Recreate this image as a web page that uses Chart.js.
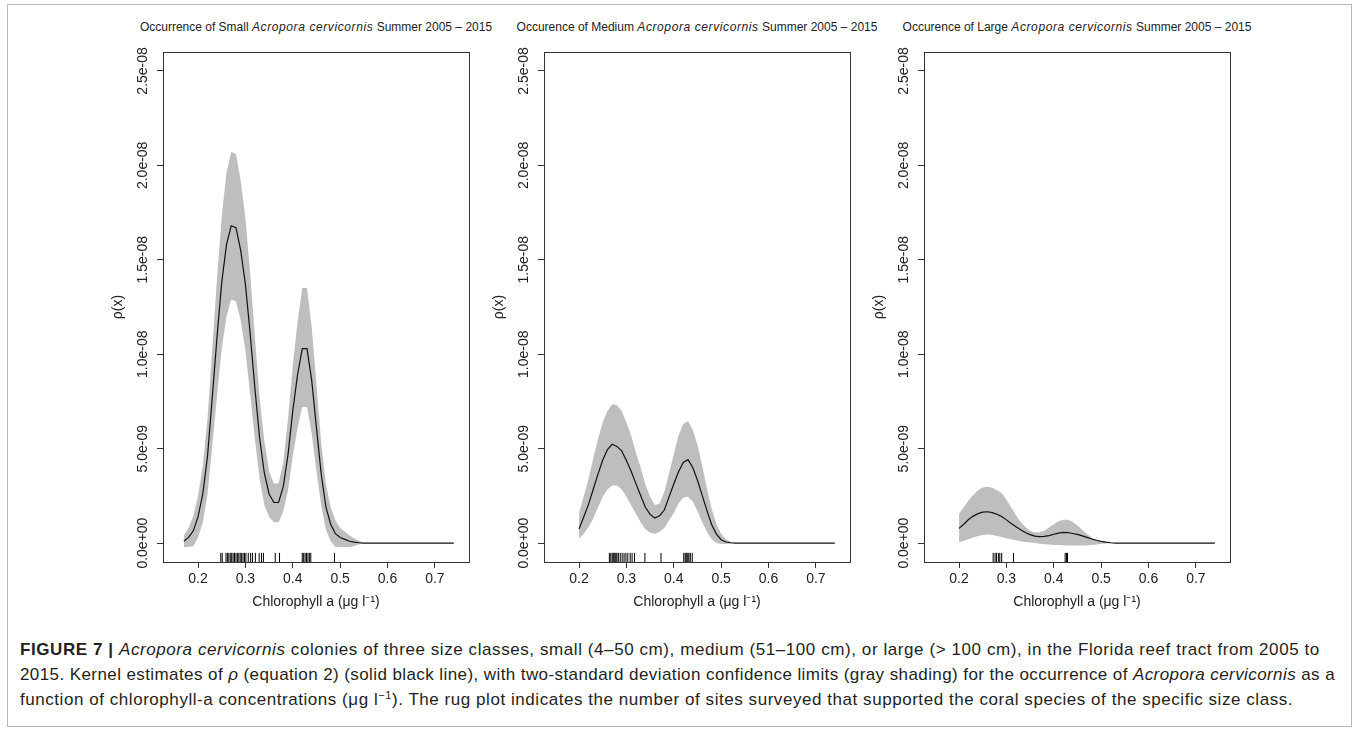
<!DOCTYPE html>
<html>
<head>
<meta charset="utf-8">
<script src="https://cdn.jsdelivr.net/npm/chart.js@4.4.1/dist/chart.umd.min.js"></script>
<style>
  html, body { margin: 0; padding: 0; background: #fff; }
  body { width: 1358px; height: 729px; position: relative; overflow: hidden; font-family: "Liberation Sans", Arial, sans-serif; }
  .frame { position: absolute; left: 7px; top: 4px; width: 1345px; height: 723px; border: 1px solid #b8b8b8; box-sizing: border-box; }
  .panel { position: absolute; top: 0; width: 391px; height: 615px; }
  .ptitle { position: absolute; top: 20px; font-size: 12px; line-height: 14px; color: #222; white-space: nowrap; transform: translateX(-50%); }
  .ptitle i { letter-spacing: 0.6px; }
  .caption { position: absolute; left: 20px; top: 638px; font-size: 17px; line-height: 24.8px; color: #231f20; white-space: nowrap; }
  .caption sup { font-size: 11px; line-height: 0; vertical-align: 6px; }
</style>
</head>
<body>
<div class="frame"></div>

<div class="ptitle" style="left:316px">Occurrence of Small <i>Acropora cervicornis</i> Summer 2005 – 2015</div>
<div class="ptitle" style="left:697px">Occurence of Medium <i>Acropora cervicornis</i> Summer 2005 – 2015</div>
<div class="ptitle" style="left:1077px">Occurence of Large <i>Acropora cervicornis</i> Summer 2005 – 2015</div>

<div class="panel" style="left:88px"><canvas id="small"></canvas></div>
<div class="panel" style="left:469px"><canvas id="medium"></canvas></div>
<div class="panel" style="left:849px"><canvas id="large"></canvas></div>

<div class="caption">
<span style="letter-spacing:0.58px"><b>FIGURE 7 |</b> <i>Acropora cervicornis</i> colonies of three size classes, small (4–50 cm), medium (51–100 cm), or large (&gt; 100 cm), in the Florida reef tract from 2005 to</span><br>
<span style="letter-spacing:0.41px">2015. Kernel estimates of <i>ρ</i> (equation 2) (solid black line), with two-standard deviation confidence limits (gray shading) for the occurrence of <i>Acropora cervicornis</i> as a</span><br>
<span style="letter-spacing:0.55px">function of chlorophyll-a concentrations (μg l<sup>−1</sup>). The rug plot indicates the number of sites surveyed that supported the coral species of the specific size class.</span>
</div>

<script>
// density values are in units of 1e-8
const xTicks = [0.2, 0.3, 0.4, 0.5, 0.6, 0.7];
const xTickLabels = ['0.2', '0.3', '0.4', '0.5', '0.6', '0.7'];
const yTicks = [0, 0.5, 1.0, 1.5, 2.0, 2.5];
const yTickLabels = ['0.0e+00', '5.0e-09', '1.0e-08', '1.5e-08', '2.0e-08', '2.5e-08'];

// small colonies
const xSmall = [0.17,0.18,0.19,0.20,0.21,0.22,0.23,0.24,0.25,0.26,0.27,0.28,0.29,0.30,0.31,0.32,0.33,0.34,0.35,0.36,0.37,0.38,0.39,0.40,0.41,0.42,0.43,0.44,0.45,0.46,0.47,0.48,0.49,0.50,0.51,0.52,0.53,0.54,0.55,0.60,0.65,0.70,0.74];
const rhoSmall = [0.01,0.03,0.065,0.14,0.26,0.46,0.77,1.09,1.38,1.58,1.68,1.67,1.55,1.37,1.11,0.82,0.555,0.37,0.26,0.215,0.215,0.30,0.47,0.70,0.89,1.03,1.03,0.86,0.61,0.365,0.19,0.10,0.05,0.03,0.02,0.01,0.005,0.002,0,0,0,0,0];
const upSmall = [0.04,0.08,0.145,0.25,0.41,0.66,1.03,1.40,1.73,1.96,2.07,2.06,1.92,1.72,1.43,1.09,0.77,0.54,0.38,0.315,0.315,0.43,0.66,0.94,1.17,1.35,1.35,1.14,0.84,0.53,0.31,0.19,0.12,0.08,0.06,0.04,0.025,0.012,0,0,0,0,0];
const loSmall = [-0.02,-0.02,-0.015,0.03,0.11,0.26,0.51,0.78,1.03,1.20,1.29,1.28,1.18,1.02,0.79,0.55,0.34,0.20,0.14,0.11,0.11,0.17,0.28,0.46,0.61,0.72,0.72,0.58,0.38,0.20,0.07,0.01,-0.02,-0.02,-0.02,-0.02,-0.015,-0.008,0,0,0,0,0];
const rugSmall = [0.248,0.251,0.259,0.262,0.265,0.268,0.271,0.274,0.277,0.280,0.283,0.286,0.289,0.292,0.295,0.298,0.301,0.306,0.311,0.315,0.321,0.329,0.334,0.338,0.363,0.372,0.420,0.423,0.426,0.429,0.432,0.435,0.438,0.488];

// medium colonies
const xMedium = [0.20,0.21,0.22,0.23,0.24,0.25,0.26,0.27,0.28,0.29,0.30,0.31,0.32,0.33,0.34,0.35,0.36,0.37,0.38,0.39,0.40,0.41,0.42,0.43,0.44,0.45,0.46,0.47,0.48,0.49,0.50,0.51,0.52,0.53,0.54,0.55,0.60,0.65,0.70,0.74];
const rhoMedium = [0.075,0.14,0.205,0.285,0.365,0.44,0.495,0.523,0.512,0.488,0.437,0.38,0.315,0.252,0.19,0.152,0.133,0.145,0.175,0.245,0.313,0.378,0.427,0.442,0.40,0.333,0.253,0.172,0.097,0.048,0.018,0.006,0.002,0,0,0,0,0,0,0];
const upMedium = [0.16,0.25,0.34,0.45,0.55,0.64,0.70,0.735,0.73,0.70,0.64,0.57,0.48,0.40,0.31,0.245,0.20,0.21,0.27,0.37,0.47,0.57,0.63,0.645,0.60,0.52,0.41,0.29,0.18,0.10,0.05,0.02,0.007,0,0,0,0,0,0,0];
const loMedium = [0.025,0.05,0.085,0.13,0.19,0.245,0.285,0.305,0.305,0.285,0.245,0.20,0.155,0.11,0.075,0.055,0.05,0.06,0.08,0.12,0.16,0.21,0.24,0.245,0.22,0.17,0.11,0.06,0.02,0.0,-0.005,-0.005,-0.002,0,0,0,0,0,0,0];
const rugMedium = [0.264,0.267,0.270,0.272,0.274,0.276,0.278,0.280,0.283,0.287,0.291,0.295,0.299,0.303,0.308,0.312,0.317,0.339,0.373,0.421,0.424,0.426,0.428,0.430,0.432,0.435,0.439];

// large colonies
const xLarge = xMedium;
const rhoLarge = [0.078,0.10,0.125,0.143,0.156,0.164,0.166,0.161,0.153,0.141,0.123,0.104,0.087,0.071,0.056,0.045,0.037,0.034,0.036,0.040,0.047,0.053,0.057,0.056,0.051,0.046,0.038,0.030,0.022,0.015,0.009,0.005,0.002,0,0,0,0,0,0,0];
const upLarge = [0.155,0.19,0.225,0.255,0.28,0.295,0.298,0.293,0.28,0.265,0.23,0.19,0.147,0.112,0.085,0.066,0.056,0.057,0.066,0.082,0.10,0.116,0.124,0.124,0.112,0.093,0.07,0.048,0.03,0.016,0.009,0.005,0.002,0,0,0,0,0,0,0];
const loLarge = [0.005,0.012,0.02,0.03,0.038,0.043,0.045,0.043,0.038,0.032,0.026,0.02,0.015,0.01,0.006,0.003,0.0,-0.003,-0.006,-0.008,-0.01,-0.01,-0.011,-0.012,-0.012,-0.012,-0.012,-0.012,-0.01,-0.007,-0.004,-0.002,0,0,0,0,0,0,0,0];
const rugLarge = [0.272,0.276,0.279,0.283,0.286,0.290,0.315,0.424,0.427,0.429];

const X_MIN = 0.126, X_MAX = 0.772;
const Y_MIN = -0.1, Y_MAX = 2.6;
const RUG_Y = -0.077;

const boxPlugin = {
    id: 'box',
    afterDatasetsDraw(chart) {
        const a = chart.chartArea;
        const ctx = chart.ctx;
        ctx.save();
        ctx.strokeStyle = '#333';
        ctx.lineWidth = 1;
        ctx.strokeRect(Math.round(a.left) + 0.5, Math.round(a.top) + 0.5, Math.round(a.right - a.left), Math.round(a.bottom - a.top));
        ctx.restore();
    }
};

function pts(xs, ys) {
    return xs.map((x, i) => ({ x: x, y: ys[i] }));
}

function makePanel(id, xs, rho, up, lo, rug) {
    const ctx = document.getElementById(id);
    new Chart(ctx, {
        type: 'line',
        data: {
            datasets: [
                {
                    label: 'rho',
                    data: pts(xs, rho),
                    borderColor: '#111',
                    borderWidth: 1.2,
                    pointRadius: 0,
                    tension: 0,
                    fill: false
                },
                {
                    label: 'upper',
                    data: pts(xs, up),
                    borderWidth: 0,
                    borderColor: 'rgba(0,0,0,0)',
                    pointRadius: 0,
                    tension: 0,
                    fill: false
                },
                {
                    label: 'lower',
                    data: pts(xs, lo),
                    borderWidth: 0,
                    borderColor: 'rgba(0,0,0,0)',
                    backgroundColor: '#bebebe',
                    pointRadius: 0,
                    tension: 0,
                    fill: '-1'
                },
                {
                    type: 'scatter',
                    label: 'rug',
                    data: rug.map(x => ({ x: x, y: RUG_Y })),
                    pointStyle: 'line',
                    rotation: 90,
                    pointRadius: 4.8,
                    borderColor: '#000',
                    borderWidth: 1,
                    showLine: false
                }
            ]
        },
        options: {
            responsive: false,
            animation: false,
            events: [],
            layout: { padding: { top: 52, right: 10, left: 0, bottom: 0 } },
            plugins: { legend: { display: false }, tooltip: { enabled: false } },
            scales: {
                x: {
                    type: 'linear',
                    min: X_MIN,
                    max: X_MAX,
                    afterBuildTicks: s => { s.ticks = xTicks.map(v => ({ value: v })); },
                    afterFit: s => { s.height = 53; },
                    ticks: {
                        autoSkip: false,
                        maxRotation: 0,
                        padding: 3,
                        color: '#222',
                        font: { family: 'Liberation Sans', size: 14 },
                        callback: (v, i) => xTickLabels[i]
                    },
                    grid: { drawOnChartArea: false, drawTicks: true, tickLength: 6, color: '#333', lineWidth: 1 },
                    border: { display: false },
                    title: {
                        display: true,
                        text: 'Chlorophyll a (μg l⁻¹)',
                        color: '#222',
                        font: { family: 'Liberation Sans', size: 14 },
                        padding: { top: 0, bottom: 4 }
                    }
                },
                y: {
                    type: 'linear',
                    min: Y_MIN,
                    max: Y_MAX,
                    afterBuildTicks: s => { s.ticks = yTicks.map(v => ({ value: v })); },
                    afterFit: s => { s.width = 75; },
                    ticks: {
                        autoSkip: false,
                        minRotation: 90,
                        maxRotation: 90,
                        crossAlign: 'center',
                        padding: -12,
                        color: '#222',
                        font: { family: 'Liberation Sans', size: 14 },
                        callback: (v, i) => yTickLabels[i]
                    },
                    grid: { drawOnChartArea: false, drawTicks: true, tickLength: 6, color: '#333', lineWidth: 1 },
                    border: { display: false },
                    title: {
                        display: true,
                        text: 'ρ(x)',
                        color: '#222',
                        font: { family: 'Liberation Sans', size: 14 },
                        padding: { top: 22, bottom: 0 }
                    }
                }
            }
        },
        plugins: [boxPlugin]
    });
}

document.addEventListener("DOMContentLoaded", function() {
    for (const c of document.querySelectorAll('canvas')) {
        c.width = 391;
        c.height = 615;
    }
    makePanel('small', xSmall, rhoSmall, upSmall, loSmall, rugSmall);
    makePanel('medium', xMedium, rhoMedium, upMedium, loMedium, rugMedium);
    makePanel('large', xLarge, rhoLarge, upLarge, loLarge, rugLarge);
});
</script>
</body>
</html>
